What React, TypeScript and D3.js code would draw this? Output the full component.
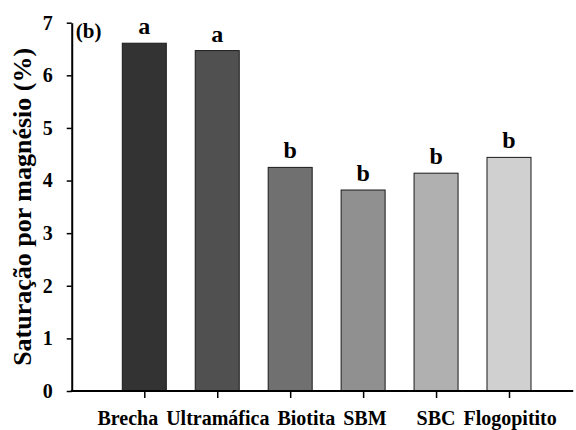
import React, { useEffect, useRef } from "react";
import * as d3 from "d3";

const categories = ["Brecha", "Ultramáfica", "Biotita", "SBM", "SBC", "Flogopitito"];
const values = [6.61, 6.47, 4.25, 3.82, 4.14, 4.44];
const letters = ["a", "a", "b", "b", "b", "b"];
const fills = ["#333333", "#505050", "#707070", "#909090", "#b0b0b0", "#d0d0d0"];
const yTicks = [0, 1, 2, 3, 4, 5, 6, 7];

export default function App() {
  const ref = useRef<SVGSVGElement>(null);

  useEffect(() => {
    const svg = d3.select(ref.current);
    svg.selectAll("*").remove();

    const width = 576;
    const height = 430;
    const font = "'Liberation Serif', 'Times New Roman', serif";

    const x = d3.scalePoint<string>().domain(categories).range([144.3, 509]);
    const step = x.step();
    const y = d3.scaleLinear().domain([0, 7]).range([391, 22.7]);
    const barW = 44;
    const axisLeftX = (x(categories[0]) as number) - step * 0.995;
    const axisRightX = (x(categories[categories.length - 1]) as number) + step * 0.88;

    svg.attr("width", width).attr("height", height);

    svg
      .append("g")
      .selectAll("rect")
      .data(values)
      .join("rect")
      .attr("x", (d, i) => (x(categories[i]) as number) - barW / 2)
      .attr("y", (d) => y(d))
      .attr("width", barW)
      .attr("height", (d) => y(0) - y(d))
      .attr("fill", (d, i) => fills[i])
      .attr("stroke", "#1a1a1a")
      .attr("stroke-width", 1);

    svg
      .append("g")
      .selectAll("text")
      .data(values)
      .join("text")
      .attr("x", (d, i) => x(categories[i]) as number)
      .attr("y", (d) => y(d) - 9)
      .attr("text-anchor", "middle")
      .attr("font-family", font)
      .attr("font-weight", "bold")
      .attr("font-size", "24px")
      .attr("fill", "#000")
      .text((d, i) => letters[i]);

    // left axis
    const gy = svg
      .append("g")
      .attr("transform", `translate(${axisLeftX},0)`)
      .call(d3.axisLeft(y).tickValues(yTicks).tickSize(5).tickSizeOuter(0).tickPadding(14).tickFormat(d3.format("d")));
    gy.select(".domain").attr("stroke", "#000").attr("stroke-width", 2);
    gy.selectAll(".tick line").attr("stroke", "#000").attr("stroke-width", 1.5);
    gy.selectAll(".tick text")
      .attr("font-family", font)
      .attr("font-weight", "bold")
      .attr("font-size", "20px")
      .attr("fill", "#000");

    // bottom axis
    const gx = svg
      .append("g")
      .attr("transform", `translate(0,${y(0)})`)
      .call(d3.axisBottom(x).tickSize(7).tickSizeOuter(0).tickPadding(13));
    gx.select(".domain").remove();
    gx.selectAll(".tick line").attr("stroke", "#000").attr("stroke-width", 1.5);
    const tickTexts = gx
      .selectAll<SVGTextElement, string>(".tick text")
      .attr("font-family", font)
      .attr("font-weight", "bold")
      .attr("font-size", "20px")
      .attr("fill", "#000");
    gx.append("line")
      .attr("x1", axisLeftX - 1)
      .attr("x2", axisRightX)
      .attr("y1", 0)
      .attr("y2", 0)
      .attr("stroke", "#000")
      .attr("stroke-width", 2);

    // nudge category labels apart so they don't collide
    const nodes = tickTexts.nodes();
    const widths = nodes.map((n) => n.getComputedTextLength());
    const centers = categories.map((c) => x(c) as number);
    const gap = 8;
    for (let it = 0; it < 100; it++) {
      for (let i = 0; i < centers.length - 1; i++) {
        const overlap = centers[i] + widths[i] / 2 + gap - (centers[i + 1] - widths[i + 1] / 2);
        if (overlap > 0) {
          centers[i] -= overlap / 2;
          centers[i + 1] += overlap / 2;
        }
      }
      const last = centers.length - 1;
      const over = centers[last] + widths[last] / 2 - width;
      if (over > 0) centers[last] -= over;
    }
    nodes.forEach((n, i) => {
      d3.select(n).attr("x", centers[i] - (x(categories[i]) as number));
    });

    svg
      .append("text")
      .attr("transform", `translate(31,${(y(0) + y(7)) / 2}) rotate(-90)`)
      .attr("text-anchor", "middle")
      .attr("font-family", font)
      .attr("font-weight", "bold")
      .attr("font-size", "26px")
      .attr("fill", "#000")
      .text("Saturação por magnésio (%)");

    svg
      .append("text")
      .attr("x", axisLeftX + 4)
      .attr("y", 38)
      .attr("font-family", font)
      .attr("font-weight", "bold")
      .attr("font-size", "21px")
      .attr("fill", "#000")
      .text("(b)");
  }, []);

  return <svg ref={ref} style={{ position: "absolute", left: 0, top: 0 }}></svg>;
}
